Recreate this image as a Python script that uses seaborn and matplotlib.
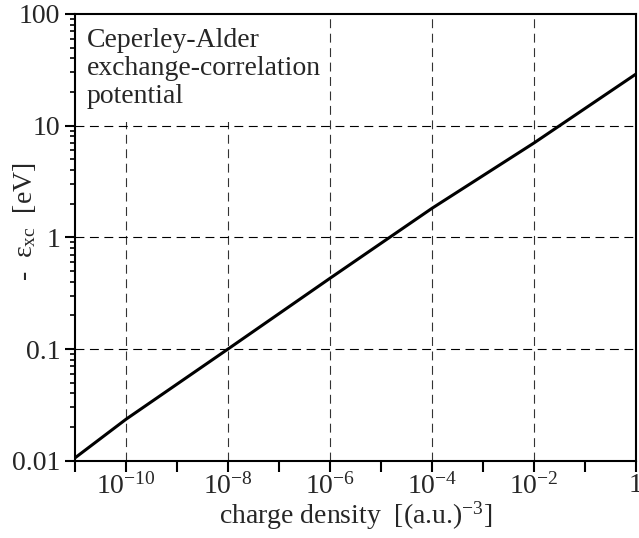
import numpy as np
import pandas as pd
import matplotlib
matplotlib.use("Agg")
import matplotlib.pyplot as plt
import matplotlib.ticker as mticker
from matplotlib.patches import Rectangle
import seaborn as sns

# Exchange-correlation energy vs. charge density (log-log)
density = [1e-11, 1e-10, 1e-8, 1e-6, 1e-4, 1e-2, 1.0]
exc_ev = [0.0106, 0.0235, 0.100, 0.43, 1.82, 7.0, 29.0]

x_label_exponents = [-10, -8, -6, -4, -2, 0]
y_tick_values = [0.01, 0.1, 1, 10, 100]
y_tick_labels = ["0.01", "0.1", "1", "10", "100"]

FS = 20

sns.set_theme(style="white")
plt.rcParams["font.family"] = ["Liberation Serif", "DejaVu Serif"]
plt.rcParams["mathtext.fontset"] = "custom"
plt.rcParams["mathtext.rm"] = "Liberation Serif"
plt.rcParams["mathtext.it"] = "Liberation Serif:italic"
plt.rcParams["mathtext.default"] = "rm"

df = pd.DataFrame({"density": density, "exc": exc_ev})

fig = plt.figure(figsize=(6.39, 5.38), dpi=100)
ax = fig.add_axes([0.1174, 0.1437, 0.8779, 0.8303])

sns.lineplot(data=df, x="density", y="exc", ax=ax, color="black", linewidth=2.2, zorder=4)

ax.set_xscale("log")
ax.set_yscale("log")
ax.set_xlim(1e-11, 1.0)
ax.set_ylim(0.01, 100)

# x: a tick at every decade, labels on even exponents
ax.xaxis.set_major_locator(mticker.FixedLocator([10.0 ** k for k in range(-11, 1)]))
ax.xaxis.set_minor_locator(mticker.NullLocator())

def xfmt(v, pos):
    e = int(round(np.log10(v)))
    if e not in x_label_exponents:
        return ""
    if e == 0:
        return "1"
    return r"$10^{%d}$" % e

ax.xaxis.set_major_formatter(mticker.FuncFormatter(xfmt))

ax.yaxis.set_major_locator(mticker.FixedLocator(y_tick_values))
ax.yaxis.set_major_formatter(mticker.FixedFormatter(y_tick_labels))
ax.yaxis.set_minor_locator(mticker.LogLocator(base=10, subs=np.arange(2, 10), numticks=20))
ax.yaxis.set_minor_formatter(mticker.NullFormatter())

ax.tick_params(axis="x", which="major", direction="out", length=8, width=1.5,
               color="black", labelsize=FS, pad=1, bottom=True)
ax.tick_params(axis="y", which="major", direction="out", length=7.5, width=1.5,
               color="black", labelsize=FS, pad=3, left=True)
ax.tick_params(axis="y", which="minor", direction="out", length=3.5, width=1.2,
               color="black", left=True)

for s in ax.spines.values():
    s.set_color("black")
    s.set_linewidth(1.5)

# dashed grid at labelled decades
dash = (0, (8, 5))
for e in x_label_exponents[:-1]:
    ax.axvline(10.0 ** e, color="#333333", linewidth=0.8, linestyle=dash, zorder=0.5)
for v in y_tick_values[1:-1]:
    ax.axhline(v, color="black", linewidth=0.8, linestyle=dash, zorder=0.5)

ax.set_xlabel(r"charge density  [(a.u.)$^{-3}$]", fontsize=FS, labelpad=0)
ax.set_ylabel(r"-  $\varepsilon_{xc}$  [eV]", fontsize=FS)
ax.yaxis.set_label_coords(-0.066, 0.534)

# white panel behind the title text
ax.add_patch(Rectangle((0.003, 0.758), 0.446, 0.235, transform=ax.transAxes,
                       facecolor="white", edgecolor="none", zorder=2))
ax.text(0.021, 0.968, "Ceperley-Alder\nexchange-correlation\npotential",
        transform=ax.transAxes, ha="left", va="top", fontsize=FS, linespacing=1.15,
        zorder=3)

fig.savefig("out.png", dpi=100)
